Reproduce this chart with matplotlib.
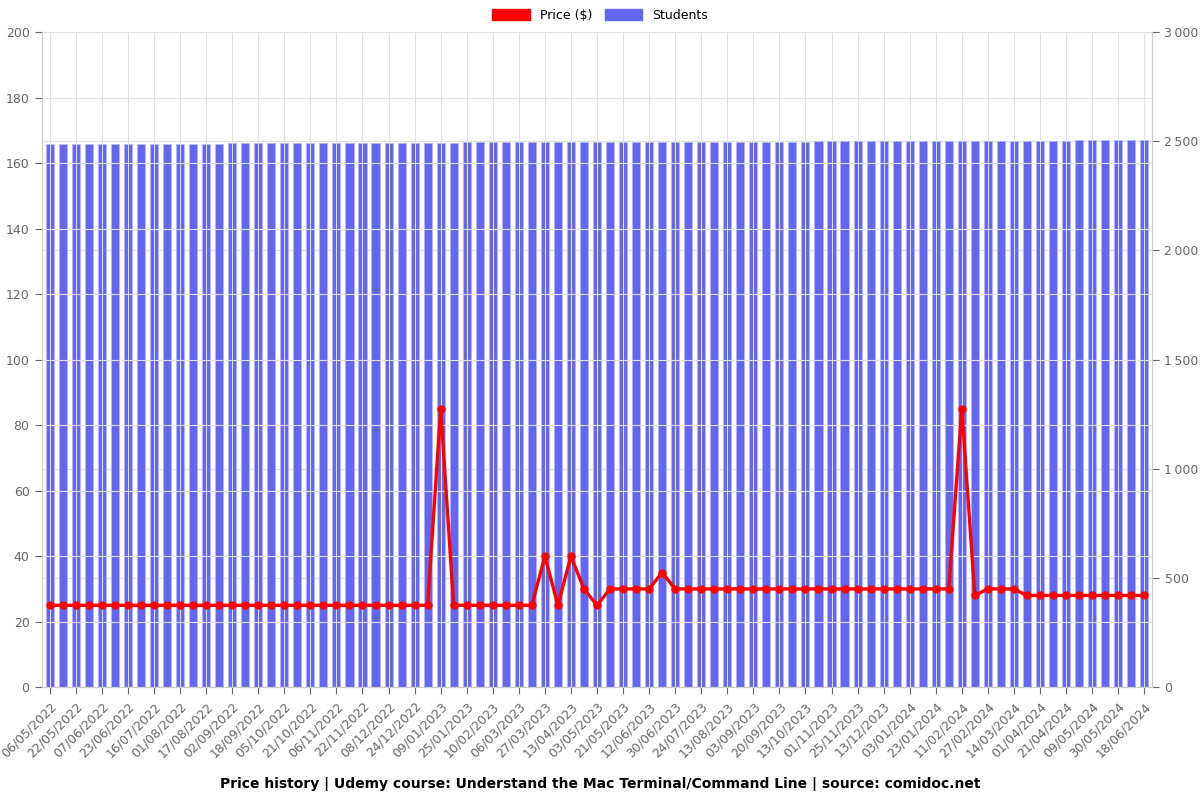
import matplotlib
matplotlib.use("Agg")
import matplotlib.pyplot as plt
from matplotlib.patches import Patch
from matplotlib.ticker import FuncFormatter

# tick labels (every second data point is labelled)
tick_labels = [
    '06/05/2022', '22/05/2022', '07/06/2022', '23/06/2022', '16/07/2022',
    '01/08/2022', '17/08/2022', '02/09/2022', '18/09/2022', '05/10/2022',
    '21/10/2022', '06/11/2022', '22/11/2022', '08/12/2022', '24/12/2022',
    '09/01/2023', '25/01/2023', '10/02/2023', '06/03/2023', '27/03/2023',
    '13/04/2023', '03/05/2023', '21/05/2023', '12/06/2023', '30/06/2023',
    '24/07/2023', '13/08/2023', '03/09/2023', '20/09/2023', '13/10/2023',
    '01/11/2023', '25/11/2023', '13/12/2023', '03/01/2024', '23/01/2024',
    '11/02/2024', '27/02/2024', '14/03/2024', '01/04/2024', '21/04/2024',
    '09/05/2024', '30/05/2024', '18/06/2024',
]

# price in $
price = [
    25, 25, 25, 25, 25, 25, 25, 25, 25, 25,
    25, 25, 25, 25, 25, 25, 25, 25, 25, 25,
    25, 25, 25, 25, 25, 25, 25, 25, 25, 25,
    85, 25, 25, 25, 25, 25, 25, 25, 40, 25,
    40, 30, 25, 30, 30, 30, 30, 35, 30, 30,
    30, 30, 30, 30, 30, 30, 30, 30, 30, 30,
    30, 30, 30, 30, 30, 30, 30, 30, 30, 30,
    85, 28, 30, 30, 30, 28, 28, 28, 28, 28,
    28, 28, 28, 28, 28,
]

# enrolled students
students = [
    2488, 2489, 2489, 2489, 2489, 2489, 2489, 2489, 2489, 2489,
    2489, 2489, 2489, 2489, 2490, 2490, 2490, 2491, 2491, 2491,
    2491, 2492, 2492, 2492, 2492, 2492, 2493, 2493, 2493, 2494,
    2494, 2494, 2495, 2496, 2496, 2496, 2496, 2496, 2497, 2497,
    2497, 2497, 2497, 2497, 2497, 2497, 2497, 2498, 2498, 2498,
    2498, 2498, 2498, 2498, 2498, 2498, 2498, 2498, 2498, 2499,
    2499, 2500, 2500, 2501, 2501, 2501, 2502, 2502, 2502, 2502,
    2502, 2502, 2502, 2503, 2503, 2503, 2503, 2503, 2503, 2504,
    2504, 2504, 2504, 2504, 2504,
]

x = list(range(len(price)))
grey = '#666666'
grid_c = '#e0e0e0'

fig = plt.figure(figsize=(12, 8), dpi=100)
ax = fig.add_axes([0.035, 0.141, 0.925, 0.819])
ax2 = ax.twinx()

ax2.bar(x, students, width=0.62, color='#6366f1', edgecolor='#b4b6f5', linewidth=0.6, zorder=1)
ax.plot(x, price, color='#ff0000', linewidth=2.4, marker='o', markersize=5, zorder=5)

ax.set_zorder(ax2.get_zorder() + 1)
ax.patch.set_visible(False)

ax.set_xlim(-0.6, len(x) - 0.4)
ax.set_ylim(0, 200)
ax.set_yticks(range(0, 201, 20))
ax2.set_ylim(0, 3000)
ax2.set_yticks(range(0, 3001, 500))
ax2.yaxis.set_major_formatter(FuncFormatter(lambda v, p: f"{int(v):,}".replace(',', '\u2009')))

ax.set_xticks(x[::2])
ax.set_xticklabels(tick_labels, rotation=45, ha='right', rotation_mode='anchor')

for a in (ax, ax2):
    a.tick_params(colors=grey, labelsize=9, length=5, width=0.8, pad=4)
    for s in a.spines.values():
        s.set_color('#cccccc')
    a.spines['top'].set_visible(False)

ax.grid(True, color=grid_c, linewidth=0.8, zorder=0)
ax2.grid(True, axis='y', color=grid_c, linewidth=0.8, zorder=0)
ax2.set_axisbelow(True)

handles = [Patch(color='#ff0000', label='Price ($)'), Patch(color='#6366f1', label='Students')]
fig.legend(handles=handles, loc='upper center', bbox_to_anchor=(0.5, 1.003), ncol=2,
           frameon=False, fontsize=9, handlelength=3, handleheight=1, columnspacing=1)

fig.text(0.5, 0.015, 'Price history | Udemy course: Understand the Mac Terminal/Command Line | source: comidoc.net',
         ha='center', fontsize=10, fontweight='bold')

fig.savefig('out.png', dpi=100)
